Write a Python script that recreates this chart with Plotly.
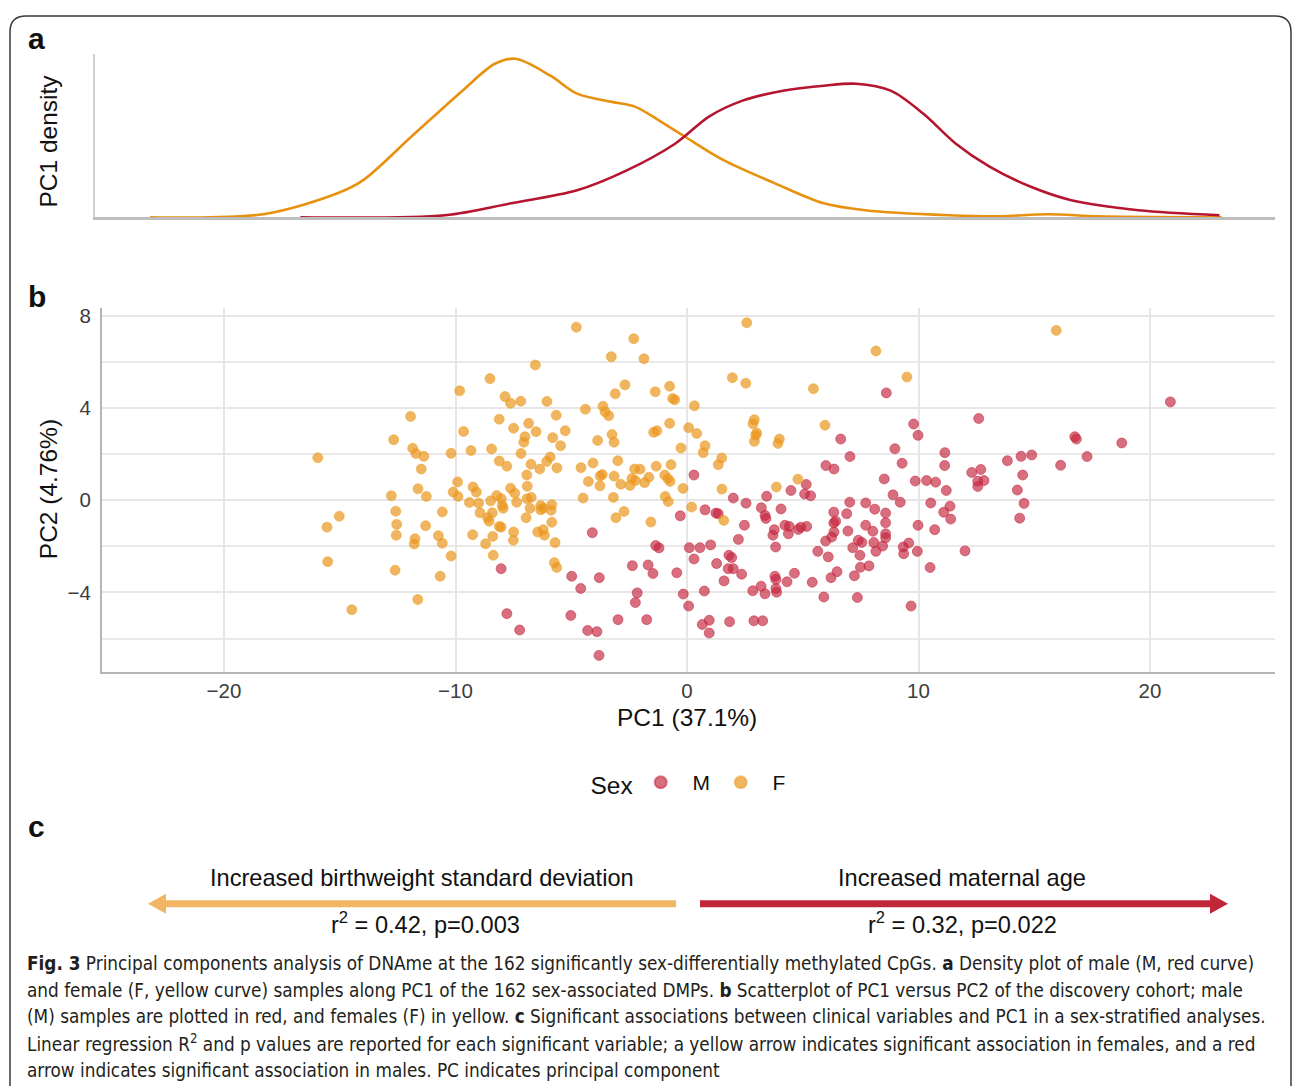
import plotly.graph_objects as go

W, H = 1292, 1086

# ---------------- data ----------------
# Panel b: PC1 / PC2 scores, males (M)
male_pc1 = [-8.03, -0.29, -4.09, -1.35, -1.21, 0.10, 0.30, -4.98, -3.79, -4.59, -2.36, -1.68, -1.47, -0.44,
            -2.15, -2.23, -0.16, 0.07, -7.78, -7.23, -5.02, -4.29, -3.89, -2.98, -1.74, -3.80, 0.30,
            8.61, 9.79, 9.98, 6.64, 7.04, 6.00, 6.35, 8.98, 9.29, 8.52, 9.86, 2.00, 2.55, 3.44, 4.49,
            5.15, 5.08, 5.34, 7.03, 7.72, 8.90, 9.21, 0.78, 1.25, 1.35, 3.21, 3.37, 3.41, 4.06, 2.48,
            2.22, 3.77, 3.71, 3.83, 4.23, 4.42, 4.38, 4.81, 4.92, 5.17, 0.56, 1.02, 1.28, 1.81, 1.93,
            1.78, 2.00, 2.36, 1.60, 0.75, 0.66, 0.96, 0.96, 1.84, 2.89, 3.27, 2.84, 3.20, 3.37, 3.80,
            3.84, 3.84, 3.87, 4.32, 4.64, 5.41, 5.65, 6.10, 5.99, 6.25, 6.35, 6.34, 6.34, 6.42, 6.90,
            6.95, 6.22, 6.48, 5.91, 7.36, 7.23, 7.49, 7.86, 7.47, 7.16, 7.40, 7.55, 8.11, 7.72, 8.03,
            8.07, 8.16, 8.45, 8.58, 8.58, 8.58, 8.58, 9.34, 9.36, 9.58, 9.98, 9.95, 9.68, 20.88, 12.60,
            16.75, 16.82, 18.78, 11.14, 11.13, 13.84, 14.43, 14.89, 16.14, 17.28, 12.30, 12.69, 12.56,
            12.83, 12.56, 14.50, 10.35, 10.74, 11.20, 14.27, 10.53, 11.36, 14.56, 11.09, 11.39, 10.70,
            14.37, 12.01, 10.50]
male_pc2 = [-2.97, -0.68, -1.41, -1.97, -2.07, -2.06, -2.55, -3.30, -3.36, -3.83, -2.84, -2.81, -3.18, -3.15,
            -4.02, -4.44, -4.07, -4.59, -4.92, -5.63, -5.00, -5.65, -5.70, -5.18, -5.18, -6.73, 1.09,
            4.65, 3.30, 2.81, 2.65, 1.89, 1.50, 1.35, 2.23, 1.60, 0.92, 0.83, 0.09, -0.13, 0.17, 0.42,
            0.68, 0.27, 0.19, -0.09, -0.12, 0.23, -0.09, -0.42, -0.56, -0.59, -0.33, -0.66, -0.79, -0.38, -1.09,
            -1.70, -1.28, -1.52, -2.03, -1.09, -1.14, -1.46, -1.27, -1.17, -1.14, -2.06, -1.94, -2.75, -2.39, -2.49,
            -2.97, -2.97, -3.21, -3.50, -3.94, -5.39, -5.21, -5.76, -5.27, -5.23, -5.23, -3.93, -3.73, -4.06, -3.30,
            -3.44, -3.83, -3.99, -3.54, -3.17, -3.56, -2.22, -2.46, -1.77, -1.60, -1.38, -0.52, -0.99, -0.91, -0.59,
            -1.34, -3.36, -3.10, -4.20, -4.22, -3.28, -2.91, -2.85, -2.39, -2.06, -1.74, -1.83, -0.39, -1.09, -1.35,
            -1.84, -2.22, -1.99, -0.56, -0.98, -1.46, -1.63, -2.03, -2.32, -1.86, -1.09, -2.22, -4.59, 4.26, 3.54,
            2.75, 2.65, 2.48, 2.06, 1.50, 1.71, 1.90, 1.96, 1.51, 1.89, 1.20, 1.33, 0.82,
            0.85, 0.59, 1.09, 0.85, 0.78, 0.42, 0.44, -0.12, -0.26, -0.14, -0.52, -0.82, -1.28,
            -0.78, -2.20, -2.92]

# Panel b: PC1 / PC2 scores, females (F)
female_pc1 = [-8.51, -9.82, -11.94, -8.11, -9.65, -12.67, -11.85, -11.71, -11.37, -10.19, -9.33, -8.44, -8.11,
              -15.95, -11.48, -9.91, -9.24, -9.10, -10.10, -9.89, -11.62, -11.26, -12.77, -9.40, -9.00, -8.48,
              -8.22, -12.58, -10.57, -15.02, -15.55, -12.54, -11.29, -12.56, -11.75, -11.78, -10.74, -10.57,
              -10.19, -15.52, -12.61, -10.66, -11.63, -14.48, -8.94, -8.41, -8.61, -8.55, -8.11, -9.26, -8.39,
              -8.70, -8.37, -4.78, -2.30, -3.27, -1.86, -6.55, -2.68, -3.10, -1.37, -0.75, -0.62, -0.53, -7.86,
              -7.62, -7.18, -6.05, -4.39, -3.63, -3.54, -3.38, -5.65, -7.49, -6.84, -6.52, -5.26, -7.00, -7.05,
              -5.80, -5.46, -3.86, -3.24, -3.15, -1.44, -1.30, -0.75, 0.07, -0.26, -7.17, -7.78, -6.74, -6.36,
              -6.06, -5.91, -5.62, -4.58, -4.06, -2.99, -2.26, -2.03, -1.33, -0.69, -6.92, -6.90, -7.62, -7.44,
              -4.26, -3.75, -3.66, -3.76, -3.15, -2.86, -2.46, -2.38, -2.23, -1.83, -1.65, -0.96, -0.83, -0.73,
              -0.17, -8.02, -6.91, -6.73, -4.49, -3.18, -0.94, -0.81, -7.36, -6.32, -5.84, -7.98, -7.94, -6.78,
              -6.32, -6.21, -5.87, -6.95, -8.03, -7.49, -7.50, -6.45, -6.21, -6.16, -5.84, -5.70, -5.73, -5.63,
              -2.72, -3.07, -1.56, 0.20, 2.58, 8.16, 9.50, 1.96, 2.54, 5.46, 0.32, 0.42, 2.91, 2.85, 3.01, 2.97,
              2.91, 3.99, 3.93, 5.96, 0.78, 0.70, 1.50, 1.35, 1.51, 3.86, 4.79, 1.59, 15.95]
female_pc2 = [5.27, 4.74, 3.63, 3.51, 2.98, 2.62, 2.25, 2.02, 1.90, 2.03, 2.15, 2.22, 1.70,
              1.84, 1.35, 0.79, 0.57, 0.35, 0.35, 0.16, 0.49, 0.16, 0.19, -0.10, -0.13, -0.03,
              0.20, -0.48, -0.51, -0.70, -1.17, -1.05, -1.11, -1.52, -1.67, -1.90, -1.54, -1.87,
              -2.42, -2.67, -3.04, -3.30, -4.31, -4.75, -0.55, -0.55, -0.76, -0.91, -1.14, -1.50, -1.57,
              -1.89, -2.39, 7.50, 7.00, 6.22, 6.13, 5.86, 5.00, 4.61, 4.70, 4.94, 4.41, 4.35, 4.49,
              4.20, 4.29, 4.28, 3.94, 4.07, 3.83, 3.66, 3.68, 3.12, 3.33, 2.97, 3.01, 2.75, 2.51,
              2.71, 2.36, 2.59, 2.85, 2.51, 2.94, 3.01, 3.33, 3.14, 2.26, 2.02, 1.47, 1.56, 1.35,
              1.68, 1.87, 1.40, 1.41, 1.61, 1.71, 1.35, 1.34, 1.47, 1.54, 1.09, 0.60, 0.52, 0.30,
              0.81, 1.05, 1.11, 0.62, 1.04, 0.69, 0.64, 0.94, 0.85, 0.76, 0.99, 1.09, 0.94, 0.81,
              0.51, 0.06, 0.06, 0.12, 0.09, 0.12, 0.16, -0.06, -0.09, -0.23, -0.20, -0.23, -0.35, -0.35,
              -0.42, -0.35, -0.44, -0.76, -1.17, -1.38, -1.74, -1.38, -1.28, -1.52, -0.96, -1.84, -2.71, -2.92,
              -0.49, -0.76, -0.95, -0.30, 7.69, 6.47, 5.34, 5.31, 5.07, 4.83, 4.09, 2.89, 3.49, 3.31, 2.91, 2.82,
              2.55, 2.65, 2.46, 3.25, 2.36, 2.06, 1.83, 1.54, 0.48, 0.57, 0.91, -0.88, 7.36]

# Panel a: PC1 density curves
female_dens_x = [-23.2, -18.3, -15.1, -14.0, -11.9, -9.7, -8.3, -7.4, -5.9, -4.75, -3.3, -2.25, -1.2,
                 -0.1, 1.6, 3.8, 5.9, 7.7, 11.3, 13.5, 15.6, 17.8, 23.1]
female_dens_y = [0.0, 0.0015, 0.012, 0.0185, 0.0405, 0.0635, 0.077, 0.0795, 0.071, 0.062, 0.058, 0.0555,
                 0.0485, 0.0405, 0.0285, 0.017, 0.007, 0.0035, 0.001, 0.0005, 0.0015, 0.0005, 0.0]
male_dens_x = [-16.7, -10.45, -7.6, -4.75, -2.6, -0.5, 0.95, 2.4, 4.15, 5.9, 7.3, 8.8, 10.2, 11.6,
               13.05, 14.8, 16.6, 19.5, 23.0]
male_dens_y = [0.0, 0.001, 0.007, 0.0135, 0.0235, 0.037, 0.0505, 0.0585, 0.0635, 0.066, 0.067, 0.0635,
               0.052, 0.037, 0.0255, 0.0155, 0.0085, 0.0035, 0.001]

x_tickvals = [-20, -10, 0, 10, 20]
x_ticktext = ["\u221220", "\u221210", "0", "10", "20"]
y_tickvals = [-4, 0, 4, 8]
y_ticktext = ["\u22124", "0", "4", "8"]
y_minorvals = [-6, -2, 2, 6]

sex_labels = ["M", "F"]
assoc_labels = ["Increased birthweight standard deviation", "Increased maternal age"]
assoc_stats = ["r<sup>2</sup> = 0.42, p=0.003", "r<sup>2</sup> = 0.32, p=0.022"]

caption_lines = [
    "<b>Fig. 3</b> Principal components analysis of DNAme at the 162 significantly sex-differentially methylated CpGs. <b>a</b> Density plot of male (M, red curve)",
    "and female (F, yellow curve) samples along PC1 of the 162 sex-associated DMPs. <b>b</b> Scatterplot of PC1 versus PC2 of the discovery cohort; male",
    "(M) samples are plotted in red, and females (F) in yellow. <b>c</b> Significant associations between clinical variables and PC1 in a sex-stratified analyses.",
    "Linear regression R<sup>2</sup> and p values are reported for each significant variable; a yellow arrow indicates significant association in females, and a red",
    "arrow indicates significant association in males. PC indicates principal component",
]

# ---------------- styling ----------------
RED = "#B5152E"
ORANGE = "#E8910F"
RED_PT = "rgba(196,36,60,0.66)"
ORANGE_PT = "rgba(234,150,28,0.70)"
FONT = "Liberation Sans, Arial, Helvetica, sans-serif"
NARROW = "DejaVu Sans Condensed, Liberation Sans Narrow, Arial Narrow, sans-serif"
NBSP = "\u00a0\u00a0"


def px(x):
    return x / W


def py(y):
    return 1 - y / H


fig = go.Figure()

# density curves (panel a)
fig.add_trace(go.Scatter(x=female_dens_x, y=female_dens_y, mode="lines",
                         line=dict(color=ORANGE, width=2.6, shape="spline", smoothing=0.9),
                         showlegend=False, xaxis="x", yaxis="y", hoverinfo="skip"))
fig.add_trace(go.Scatter(x=male_dens_x, y=male_dens_y, mode="lines",
                         line=dict(color=RED, width=2.6, shape="spline", smoothing=0.9),
                         showlegend=False, xaxis="x", yaxis="y", hoverinfo="skip"))

# scatter (panel b)
fig.add_trace(go.Scatter(x=male_pc1, y=male_pc2, mode="markers", name=NBSP + sex_labels[0],
                         marker=dict(size=10, color=RED_PT, line=dict(color="rgba(200,40,65,0.55)", width=1)),
                         xaxis="x2", yaxis="y2"))
fig.add_trace(go.Scatter(x=female_pc1, y=female_pc2, mode="markers", name=NBSP + sex_labels[1],
                         marker=dict(size=10, color=ORANGE_PT, line=dict(color="rgba(240,160,40,0.55)", width=1)),
                         xaxis="x2", yaxis="y2"))

TICKFONT = dict(family=FONT, size=20.5, color="#3d3d3d")

# axes
fig.update_layout(
    xaxis=dict(domain=[px(95), px(1275)], range=[(95 - 687) / 23.15, (1275 - 687) / 23.15],
               showgrid=False, zeroline=False, showticklabels=False, ticks="",
               showline=True, linecolor="#bdbdbd", linewidth=3, anchor="y", fixedrange=True),
    yaxis=dict(domain=[py(214), py(50)], range=[0, 0.082], showgrid=False, zeroline=False,
               showticklabels=False, ticks="", showline=True, linecolor="#d0d0d0", linewidth=2,
               anchor="x", fixedrange=True),
    xaxis2=dict(domain=[px(102), px(1275)], range=[(102 - 687) / 23.15, (1275 - 687) / 23.15],
                tickvals=x_tickvals, ticktext=x_ticktext, showgrid=True, gridcolor="#e6e6e6", gridwidth=2,
                zeroline=False, ticks="", showline=True, linecolor="#b5b5b5", linewidth=2,
                tickfont=TICKFONT, ticklabelstandoff=0, anchor="y2", fixedrange=True),
    yaxis2=dict(domain=[py(670), py(305)], range=[(498 - 670) / 23.15, (498 - 305) / 23.15],
                tickvals=y_tickvals, ticktext=y_ticktext, showgrid=True, gridcolor="#e6e6e6", gridwidth=2,
                minor=dict(tickvals=y_minorvals, showgrid=True, gridcolor="#e9e9e9", gridwidth=1.5, ticks=""),
                zeroline=False, ticks="", showline=True, linecolor="#b5b5b5", linewidth=2,
                tickfont=TICKFONT, ticklabelstandoff=5, anchor="x2", fixedrange=True),
)

annotations = []


def text(x, y, s, size, bold=False, family=FONT, xanchor="center", angle=0, color="#111111"):
    annotations.append(dict(x=px(x), y=py(y), xref="paper", yref="paper", text=("<b>%s</b>" % s) if bold else s,
                            showarrow=False, xanchor=xanchor, yanchor="middle", textangle=angle,
                            font=dict(family=family, size=size, color=color)))


# panel labels
text(36, 35, "a", 30, bold=True)
text(37, 294, "b", 30, bold=True)
text(36, 826, "c", 30, bold=True)

# axis titles
text(48, 138, "PC1 density", 24.5, angle=-90)
text(48, 487, "PC2 (4.76%)", 24.5, angle=-90)
text(687, 716, "PC1 (37.1%)", 24.5)

# panel c texts
text(422, 877, assoc_labels[0], 23.6)
text(425, 922, assoc_stats[0], 23.6)
text(962, 877, assoc_labels[1], 23.6)
text(962, 922, assoc_stats[1], 23.6)

# caption
for i, line in enumerate(caption_lines):
    text(25, 963 + i * 26.75, line, 18.8, family=NARROW, xanchor="left", color="#231f20")

shapes = []


def path_from(points, close=True):
    d = "M " + " L ".join("%.5f,%.5f" % (px(a), py(b)) for a, b in points)
    return d + (" Z" if close else "")


# rounded frame
r = 16
frame = ("M %.5f,%.5f L %.5f,%.5f Q %.5f,%.5f %.5f,%.5f L %.5f,%.5f Q %.5f,%.5f %.5f,%.5f L %.5f,%.5f" % (
    px(10), py(1100), px(10), py(12 + r), px(10), py(12), px(10 + r), py(12),
    px(1291 - r), py(12), px(1291), py(12), px(1291), py(12 + r), px(1291), py(1100)))
shapes.append(dict(type="path", xref="paper", yref="paper", path=frame,
                   line=dict(color="#3a3a3a", width=1.5)))

# arrows of panel c
ARROW_OR = "#F0B663"
ARROW_RD = "#C0283A"
shapes.append(dict(type="path", xref="paper", yref="paper",
                   path=path_from([(676, 899.5), (166, 899.5), (166, 893), (148, 903), (166, 913), (166, 906.5), (676, 906.5)]),
                   fillcolor=ARROW_OR, line=dict(width=0)))
shapes.append(dict(type="path", xref="paper", yref="paper",
                   path=path_from([(700, 899.5), (1210, 899.5), (1210, 893), (1228, 903), (1210, 913), (1210, 906.5), (700, 906.5)]),
                   fillcolor=ARROW_RD, line=dict(width=0)))

fig.update_layout(
    width=W, height=H, margin=dict(l=0, r=0, t=0, b=0),
    paper_bgcolor="white", plot_bgcolor="white",
    annotations=annotations, shapes=shapes,
    showlegend=True,
    legend=dict(orientation="h", x=px(695), xanchor="center", y=py(782), yanchor="middle",
                title=dict(text="Sex", font=dict(family=FONT, size=24.5, color="#111111"), side="left"),
                font=dict(family=FONT, size=21, color="#111111"), bgcolor="rgba(0,0,0,0)",
                itemsizing="constant", entrywidth=35),
    font=dict(family=FONT),
)

fig.write_html("out.html", config={"displayModeBar": False},
               post_script="document.body.style.margin='0';document.body.style.padding='0';document.body.style.overflow='hidden';")
